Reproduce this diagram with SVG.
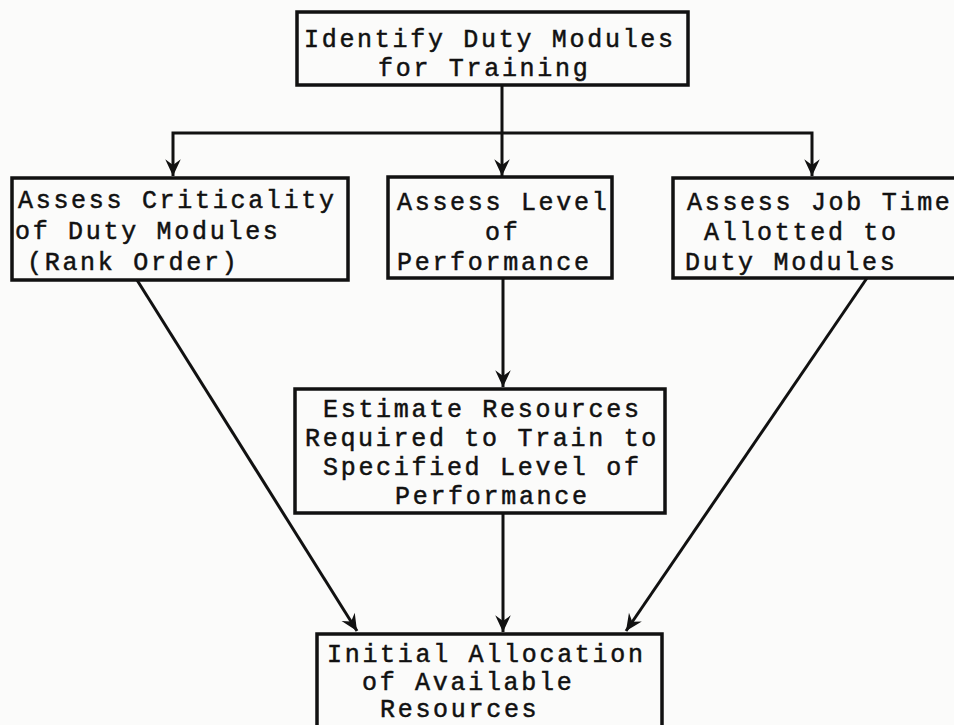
<svg xmlns="http://www.w3.org/2000/svg" width="954" height="725" viewBox="0 0 954 725">
  <style>
    .box { fill: none; stroke: #111; stroke-width: 3.5; }
    .wire { fill: none; stroke: #111; stroke-width: 3; }
    .lbl { font-family: "Liberation Mono", "DejaVu Sans Mono", monospace; font-size: 25px; letter-spacing: 2.7px; fill: #111; stroke: #111; stroke-width: 0.5; white-space: pre; }
  </style>
  <defs>
    <marker id="arrow" markerUnits="userSpaceOnUse" markerWidth="20" markerHeight="20" viewBox="-16 -8 18 16" refX="0" refY="0" orient="auto">
      <path d="M-15,-7 L0,0 L-15,7 L-10,0 Z" fill="#111"/>
    </marker>
  </defs>
  <rect width="954" height="725" fill="#fbfbfa"/>

  <g id="connectors">
    <path class="wire" d="M502,85 V176" marker-end="url(#arrow)"/>
    <path class="wire" d="M502,133 H173 V176" marker-end="url(#arrow)"/>
    <path class="wire" d="M502,133 H812 V176" marker-end="url(#arrow)"/>
    <path class="wire" d="M503,278 V387" marker-end="url(#arrow)"/>
    <path class="wire" d="M503,513 V632" marker-end="url(#arrow)"/>
    <path class="wire" d="M137,280 L357,631" marker-end="url(#arrow)"/>
    <path class="wire" d="M867,278 L626,631" marker-end="url(#arrow)"/>
  </g>

  <g id="identify">
    <rect class="box" x="297" y="12" width="391" height="73"/>
    <text class="lbl" x="304" y="47">Identify Duty Modules</text>
    <text class="lbl" x="378" y="76">for Training</text>
  </g>

  <g id="criticality">
    <rect class="box" x="12" y="178" width="336" height="102"/>
    <text class="lbl" x="18" y="208">Assess Criticality</text>
    <text class="lbl" x="15" y="239">of Duty Modules</text>
    <text class="lbl" x="27" y="270">(Rank Order)</text>
  </g>

  <g id="level">
    <rect class="box" x="388" y="177" width="224" height="101"/>
    <text class="lbl" x="397" y="210">Assess Level</text>
    <text class="lbl" x="485" y="240">of</text>
    <text class="lbl" x="397" y="270">Performance</text>
  </g>

  <g id="jobtime">
    <rect class="box" x="673" y="178" width="290" height="100"/>
    <text class="lbl" x="687" y="210">Assess Job Time</text>
    <text class="lbl" x="704" y="240">Allotted to</text>
    <text class="lbl" x="685" y="270">Duty Modules</text>
  </g>

  <g id="estimate">
    <rect class="box" x="295" y="389" width="370" height="124"/>
    <text class="lbl" x="323" y="417">Estimate Resources</text>
    <text class="lbl" x="305" y="446">Required to Train to</text>
    <text class="lbl" x="323" y="475">Specified Level of</text>
    <text class="lbl" x="395" y="504">Performance</text>
  </g>

  <g id="allocation">
    <rect class="box" x="317" y="634" width="345" height="110"/>
    <text class="lbl" x="327" y="662">Initial Allocation</text>
    <text class="lbl" x="362" y="690">of Available</text>
    <text class="lbl" x="380" y="717">Resources</text>
  </g>
</svg>
